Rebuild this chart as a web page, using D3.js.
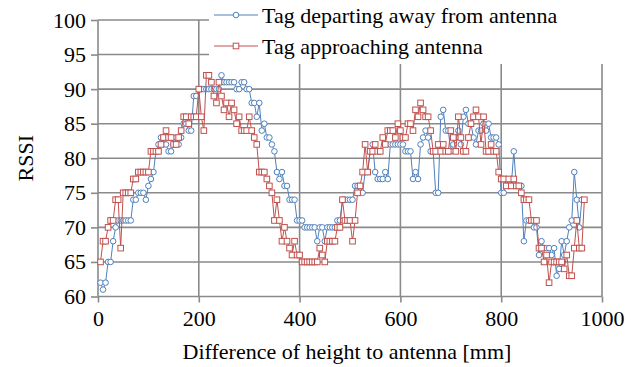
<!DOCTYPE html>
<html>
<head>
<meta charset="utf-8">
<script src="https://cdn.jsdelivr.net/npm/d3@7"></script>
<style>
  body { margin: 0; background: #fff; }
</style>
</head>
<body>
<div id="chart"></div>
<script>
// sampling positions along the height axis [mm]
const xStart = 5;
const xStep = 5;

// RSSI readings, one per 5 mm step starting at 5 mm
const departing = [
  62, 61, 62, 65, 65, 68, 70, 71, 71, 71, 71, 71, 71, 74, 74, 75, 75, 75, 74, 76,
  77, 78, 81, 82, 83, 83, 82, 81, 81, 82, 83, 82, 83, 85, 85, 84, 84, 89, 89, 90,
  90, 90, 90, 90, 90, 90, 90, 90, 92, 91, 91, 91, 91, 91, 90, 90, 91, 91, 90, 90,
  88, 88, 86, 88, 84, 85, 83, 83, 82, 81, 78, 77, 78, 76, 76, 74, 74, 74, 71, 71,
  71, 70, 70, 70, 70, 70, 68, 70, 70, 68, 70, 70, 70, 70, 71, 71, 74, 74, 74, 74,
  74, 76, 76, 76, 75, 78, 78, 81, 82, 78, 77, 77, 77, 78, 77, 82, 82, 82, 82, 82,
  82, 81, 81, 81, 77, 78, 77, 82, 83, 84, 83, 81, 81, 75, 75, 86, 87, 84, 84, 81,
  82, 83, 84, 82, 86, 87, 85, 85, 83, 82, 84, 84, 85, 84, 85, 83, 83, 83, 82, 75,
  75, 77, 76, 76, 81, 76, 76, 76, 68, 71, 71, 71, 70, 70, 66, 68, 67, 67, 67, 66,
  67, 63, 64, 68, 66, 68, 70, 71, 78, 74, 70, 74
];

const approaching = [
  65, 68, 68, 70, 71, 71, 74, 74, 67, 75, 75, 75, 75, 77, 77, 78, 78, 78, 78, 78,
  81, 81, 81, 81, 82, 83, 84, 83, 83, 82, 82, 83, 84, 86, 86, 85, 86, 86, 86, 90,
  86, 84, 92, 92, 91, 89, 88, 91, 89, 87, 88, 86, 88, 87, 85, 86, 84, 84, 84, 86,
  84, 83, 82, 78, 78, 78, 77, 76, 75, 71, 74, 71, 68, 70, 68, 67, 66, 68, 66, 66,
  65, 65, 65, 65, 65, 65, 65, 67, 66, 65, 68, 68, 68, 68, 70, 70, 74, 71, 71, 71,
  68, 71, 75, 76, 78, 82, 78, 81, 81, 82, 81, 81, 83, 82, 84, 84, 84, 83, 85, 84,
  83, 83, 85, 85, 84, 87, 86, 88, 87, 86, 86, 84, 81, 81, 82, 81, 82, 81, 81, 84,
  83, 81, 86, 83, 81, 81, 83, 85, 86, 87, 86, 82, 86, 81, 81, 82, 81, 81, 78, 77,
  77, 76, 77, 76, 77, 76, 76, 75, 74, 74, 74, 71, 71, 71, 67, 67, 65, 66, 62, 65,
  65, 65, 65, 65, 64, 66, 63, 63, 67, 71, 67, 67, 74
];

const xTicks = [0, 200, 400, 600, 800, 1000];
const yTicks = [60, 65, 70, 75, 80, 85, 90, 95, 100];

const seriesNames = ["Tag departing away from antenna", "Tag approaching antenna"];

const W = 638, H = 367;
const blue = "#4f81bd", red = "#c0504d", grid = "#8a8a8a";
const FONT = "'Liberation Serif', 'Times New Roman', 'DejaVu Serif', serif";
const FS = 22;

const svg = d3.select("#chart").append("svg")
  .attr("width", W)
  .attr("height", H)
  .attr("font-family", FONT);

const x = d3.scaleLinear().domain([0, 1000]).range([98, 602]);
const y = d3.scaleLinear().domain([60, 100]).range([296.5, 20]);

// grid lines
svg.append("g")
  .selectAll("line")
  .data(yTicks)
  .enter().append("line")
  .attr("x1", x(0)).attr("x2", x(1000))
  .attr("y1", d => y(d)).attr("y2", d => y(d))
  .attr("stroke", grid).attr("stroke-width", 1.6);

svg.append("g")
  .selectAll("line")
  .data(xTicks)
  .enter().append("line")
  .attr("x1", d => x(d)).attr("x2", d => x(d))
  .attr("y1", y(60)).attr("y2", y(100))
  .attr("stroke", grid).attr("stroke-width", 1.6);

// axes
const yAxis = d3.axisLeft(y).tickValues(yTicks).tickSize(7).tickPadding(5);
const gy = svg.append("g").attr("transform", `translate(${x(0)},0)`).call(yAxis)
  .attr("font-family", FONT).attr("font-size", FS);
gy.select(".domain").remove();
gy.selectAll("line").attr("stroke", grid).attr("stroke-width", 1.6);
gy.selectAll("text").attr("fill", "#000");

const xAxis = d3.axisBottom(x).tickValues(xTicks).tickFormat(d3.format("d"))
  .tickSize(6).tickPadding(8);
const gx = svg.append("g").attr("transform", `translate(0,${y(60)})`).call(xAxis)
  .attr("font-family", FONT).attr("font-size", FS);
gx.select(".domain").remove();
gx.selectAll("line").attr("stroke", grid).attr("stroke-width", 1.6);
gx.selectAll("text").attr("fill", "#000");

// axis titles
svg.append("text")
  .attr("x", x(500) - 3)
  .attr("y", 359)
  .attr("text-anchor", "middle")
  .attr("font-size", FS)
  .text("Difference of height to antenna [mm]");

svg.append("text")
  .attr("transform", `translate(33,${y(80)}) rotate(-90)`)
  .attr("text-anchor", "middle")
  .attr("font-size", FS)
  .text("RSSI");

// series
const toPoints = arr => arr.map((v, i) => ({ x: xStart + i * xStep, y: v }));

const line = d3.line().x(d => x(d.x)).y(d => y(d.y));

function drawSeries(arr, color, shape) {
  const pts = toPoints(arr);
  svg.append("path")
    .datum(pts)
    .attr("fill", "none")
    .attr("stroke", color)
    .attr("stroke-width", 1)
    .attr("d", line);
  const g = svg.append("g");
  if (shape === "circle") {
    g.selectAll("circle").data(pts).enter().append("circle")
      .attr("cx", d => x(d.x)).attr("cy", d => y(d.y)).attr("r", 2.8)
      .attr("fill", "#fff").attr("stroke", color).attr("stroke-width", 1);
  } else {
    g.selectAll("rect").data(pts).enter().append("rect")
      .attr("x", d => x(d.x) - 2.8).attr("y", d => y(d.y) - 2.8)
      .attr("width", 5.6).attr("height", 5.6)
      .attr("fill", "#fff").attr("stroke", color).attr("stroke-width", 1);
  }
}

drawSeries(departing, blue, "circle");
drawSeries(approaching, red, "square");

// legend (covers the grid behind it)
const lg = svg.append("g");
lg.append("rect")
  .attr("x", 209).attr("y", 0).attr("width", 420).attr("height", 64)
  .attr("fill", "#fff");

const legendItems = [
  { name: seriesNames[0], color: blue, shape: "circle", y: 15 },
  { name: seriesNames[1], color: red, shape: "square", y: 46 }
];
legendItems.forEach(it => {
  lg.append("line")
    .attr("x1", 214).attr("x2", 258)
    .attr("y1", it.y).attr("y2", it.y)
    .attr("stroke", it.color).attr("stroke-width", 1);
  if (it.shape === "circle") {
    lg.append("circle").attr("cx", 236).attr("cy", it.y).attr("r", 2.8)
      .attr("fill", "#fff").attr("stroke", it.color);
  } else {
    lg.append("rect").attr("x", 233.2).attr("y", it.y - 2.8)
      .attr("width", 5.6).attr("height", 5.6)
      .attr("fill", "#fff").attr("stroke", it.color);
  }
  lg.append("text")
    .attr("x", 262).attr("y", it.y)
    .attr("dy", "0.35em")
    .attr("font-size", FS)
    .text(it.name);
});
</script>
</body>
</html>
